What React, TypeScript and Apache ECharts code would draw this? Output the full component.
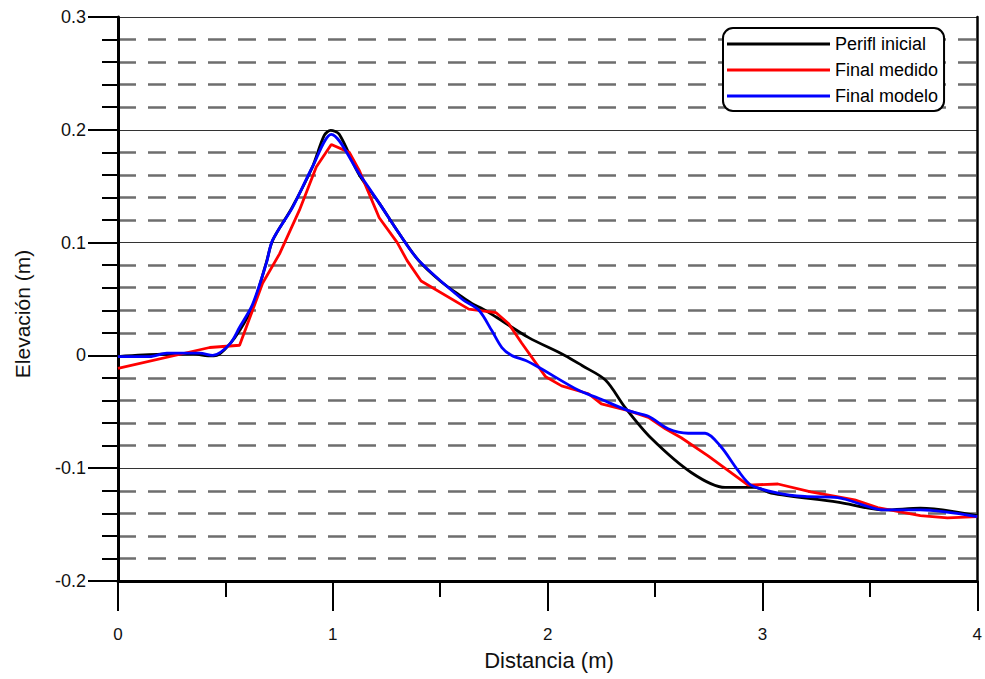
import React, { useEffect, useRef } from "react";
import * as echarts from "echarts";

// Perfil inicial (black)
const xInicial = [0, 0.2, 0.35, 0.42, 0.46, 0.52, 0.566, 0.626, 0.69, 0.72, 0.81, 0.905, 0.96, 0.99, 1.03, 1.12, 1.216, 1.309, 1.4, 1.5, 1.6, 1.647, 1.7, 1.76, 1.91, 2.08, 2.16, 2.27, 2.36, 2.48, 2.67, 2.826, 2.965, 3.04, 3.35, 3.57, 3.735, 4.0];
const yInicial = [-0.001, 0.001, 0.0015, -0.0005, 0.0, 0.01, 0.022, 0.043, 0.082, 0.102, 0.131, 0.167, 0.195, 0.1995, 0.196, 0.161, 0.135, 0.108, 0.084, 0.066, 0.052, 0.046, 0.041, 0.034, 0.016, 0.0, -0.009, -0.022, -0.046, -0.073, -0.104, -0.117, -0.117, -0.122, -0.13, -0.137, -0.1355, -0.142];

// Final medido (red)
const xMedido = [0, 0.427, 0.566, 0.673, 0.752, 0.845, 0.923, 0.993, 1.077, 1.123, 1.216, 1.3, 1.346, 1.411, 1.633, 1.759, 1.819, 1.879, 1.991, 2.065, 2.19, 2.25, 2.376, 2.469, 2.548, 2.622, 2.747, 2.933, 3.072, 3.225, 3.429, 3.536, 3.735, 3.861, 4.0];
const yMedido = [-0.0115, 0.007, 0.009, 0.064, 0.09, 0.129, 0.167, 0.187, 0.18, 0.164, 0.122, 0.1, 0.084, 0.066, 0.041, 0.038, 0.028, 0.011, -0.019, -0.027, -0.034, -0.043, -0.049, -0.055, -0.065, -0.073, -0.089, -0.115, -0.114, -0.121, -0.128, -0.135, -0.142, -0.144, -0.143];

// Final modelo (blue)
const xModelo = [0, 0.148, 0.227, 0.381, 0.441, 0.52, 0.566, 0.626, 0.691, 0.719, 0.812, 0.905, 0.993, 1.123, 1.216, 1.309, 1.401, 1.601, 1.68, 1.74, 1.787, 1.833, 1.898, 1.958, 2.144, 2.237, 2.376, 2.469, 2.561, 2.654, 2.733, 2.807, 2.886, 2.947, 3.072, 3.197, 3.35, 3.568, 3.735, 4.0];
const yModelo = [-0.001, -0.001, 0.002, 0.002, 0.0, 0.01, 0.025, 0.045, 0.082, 0.102, 0.131, 0.167, 0.196, 0.161, 0.135, 0.108, 0.084, 0.05, 0.04, 0.022, 0.007, 0.0, -0.0045, -0.0105, -0.031, -0.038, -0.049, -0.054, -0.065, -0.069, -0.069, -0.081, -0.102, -0.115, -0.122, -0.125, -0.126, -0.137, -0.137, -0.143];

const seriesNames = ["Perifl inicial", "Final medido", "Final modelo"];
const seriesColors = ["#000000", "#ff0000", "#0000ff"];
const xTitle = "Distancia (m)";
const yTitle = "Elevación (m)";

const FONT = "Arial, 'Liberation Sans', Helvetica, sans-serif";

const pairs = (xs: number[], ys: number[]) => xs.map((x, i) => [x, ys[i]]);

export default function App() {
  const ref = useRef<HTMLDivElement>(null);
  useEffect(() => {
    if (!ref.current) return;
    const chart = echarts.init(ref.current, undefined, { renderer: "svg" });
    const datasets = [pairs(xInicial, yInicial), pairs(xMedido, yMedido), pairs(xModelo, yModelo)];
    chart.setOption({
      animation: false,
      backgroundColor: "#ffffff",
      textStyle: { fontFamily: FONT },
      grid: { left: 118, right: 5, top: 17, bottom: 98, show: false },
      legend: {
        orient: "vertical",
        left: 723,
        top: 28,
        padding: [7, 6, 6, 4],
        itemGap: 8,
        itemWidth: 103,
        itemHeight: 3,
        icon: "rect",
        borderColor: "#000",
        borderWidth: 2,
        borderRadius: 10,
        backgroundColor: "#fff",
        textStyle: { fontFamily: FONT, fontSize: 18, color: "#000" },
        data: seriesNames,
      },
      xAxis: {
        type: "value",
        min: 0,
        max: 4,
        interval: 1,
        axisLine: { show: true, onZero: false, lineStyle: { color: "#000", width: 3 } },
        axisTick: { show: true, length: 30, lineStyle: { color: "#000", width: 2 } },
        minorTick: { show: true, splitNumber: 2, length: 16, lineStyle: { color: "#000", width: 2 } },
        splitLine: { show: false },
        minorSplitLine: { show: false },
        axisLabel: { margin: 45, fontSize: 17, color: "#111", fontFamily: FONT, formatter: (v: number) => String(Math.round(v)) },
      },
      yAxis: [
        {
          type: "value",
          min: -0.2,
          max: 0.3,
          interval: 0.1,
          axisLine: { show: true, onZero: false, lineStyle: { color: "#000", width: 3 } },
          axisTick: { show: true, length: 30, lineStyle: { color: "#000", width: 2 } },
          minorTick: { show: true, splitNumber: 5, length: 16, lineStyle: { color: "#000", width: 2 } },
          splitLine: { show: true, lineStyle: { color: "#333", width: 1 } },
          minorSplitLine: { show: true, lineStyle: { color: "#6e6e6e", width: 2.5, type: [18, 12] } },
          axisLabel: {
            margin: 32,
            fontSize: 18,
            color: "#111",
            fontFamily: FONT,
            formatter: (v: number) => (Math.abs(v) < 1e-9 ? "0" : v.toFixed(1)),
          },
        },
        {
          type: "value",
          position: "right",
          min: -0.2,
          max: 0.3,
          interval: 0.1,
          axisLine: { show: true, onZero: false, lineStyle: { color: "#000", width: 2.5 } },
          axisTick: { show: false },
          axisLabel: { show: false },
          splitLine: { show: false },
        },
      ],
      series: seriesNames.map((name, i) => ({
        name,
        type: "line",
        yAxisIndex: 0,
        data: datasets[i],
        symbol: "none",
        smooth: i === 1 ? false : 0.3,
        lineStyle: { color: seriesColors[i], width: 2.8 },
        itemStyle: { color: seriesColors[i] },
        z: 3 + i,
      })),
      graphic: [
        {
          type: "text",
          x: 549,
          y: 660,
          style: { text: xTitle, fontSize: 22, fontFamily: FONT, fill: "#111", textAlign: "center", textVerticalAlign: "middle" },
        },
        {
          type: "text",
          x: 22,
          y: 314,
          rotation: Math.PI / 2,
          style: { text: yTitle, fontSize: 21, fontFamily: FONT, fill: "#111", textAlign: "center", textVerticalAlign: "middle" },
        },
      ],
    });
    return () => chart.dispose();
  }, []);
  return <div ref={ref} style={{ width: 985, height: 679, position: "absolute", left: 0, top: 0 }} />;
}
